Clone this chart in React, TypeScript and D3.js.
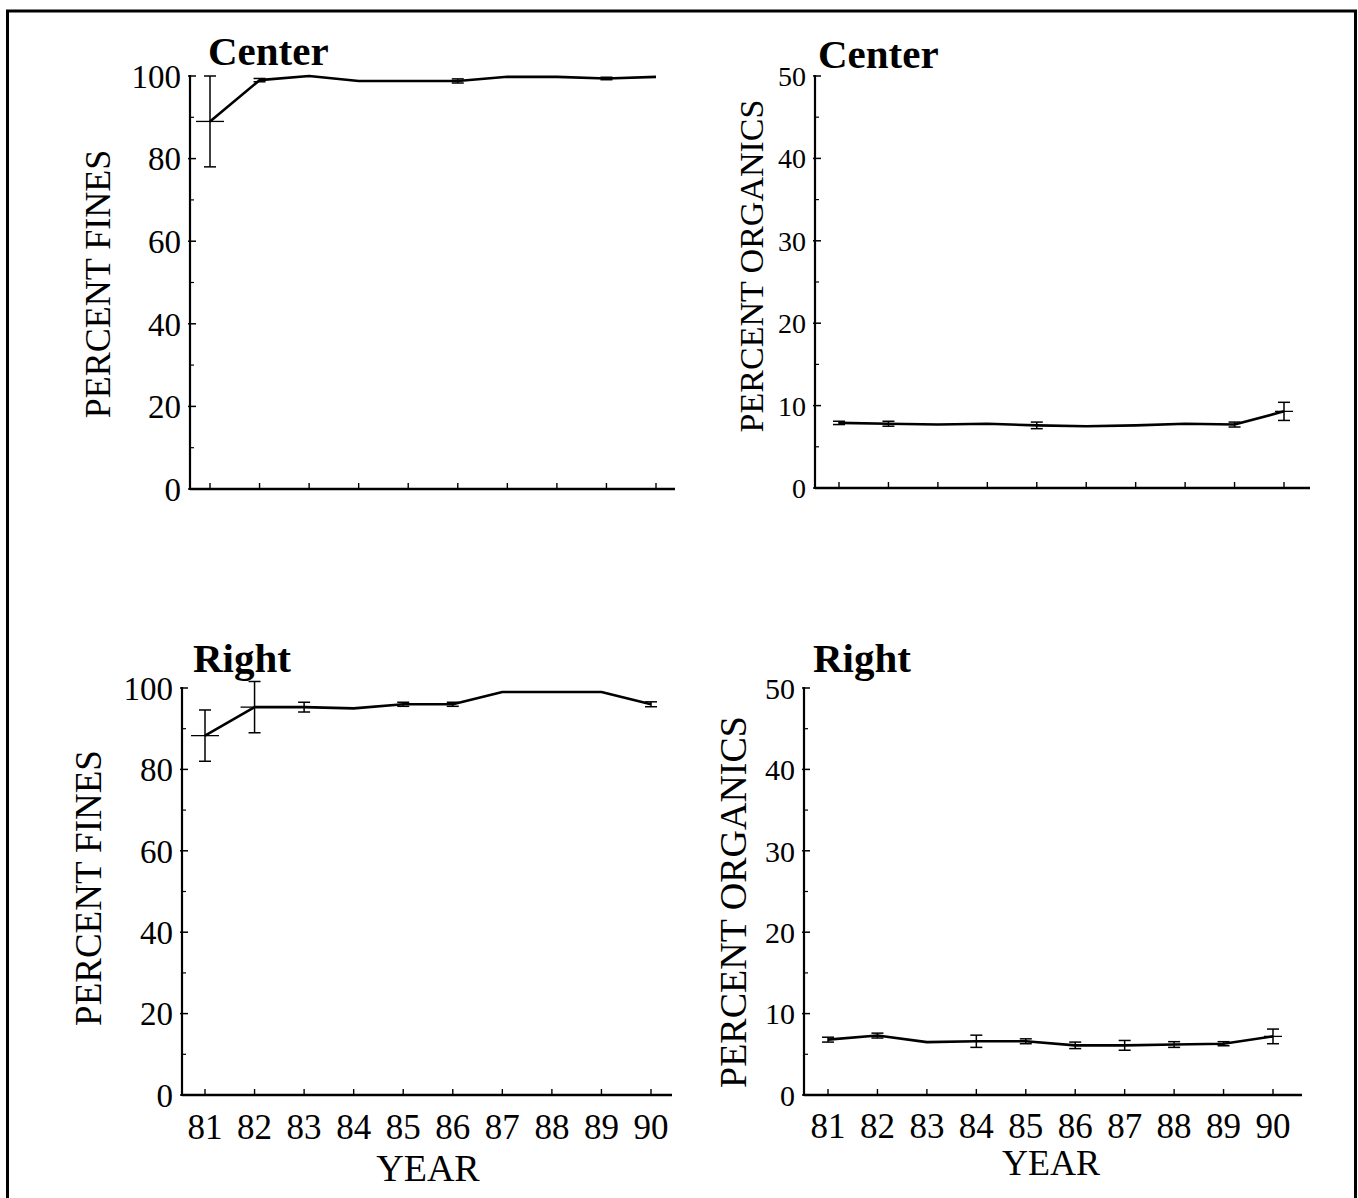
import React from "react";
import * as d3 from "d3";

// ---------- data ----------
const years = [81, 82, 83, 84, 85, 86, 87, 88, 89, 90];
const yearLabels = ["81", "82", "83", "84", "85", "86", "87", "88", "89", "90"];

const centerFines = [89, 99, 100, 98.8, 98.8, 98.8, 99.8, 99.8, 99.4, 99.8];
const centerFinesErr = [11, 0.4, 0, 0, 0, 0.5, 0, 0, 0.3, 0];

const centerOrganics = [7.9, 7.8, 7.7, 7.8, 7.6, 7.5, 7.6, 7.8, 7.7, 9.3];
const centerOrganicsErr = [0.2, 0.3, 0, 0, 0.4, 0, 0, 0, 0.3, 1.1];

const rightFines = [88.3, 95.3, 95.3, 95, 96, 96, 99, 99, 99, 96];
const rightFinesErr = [6.3, 6.3, 1.2, 0, 0.5, 0.5, 0, 0, 0, 0.6];

const rightOrganics = [6.8, 7.3, 6.5, 6.6, 6.6, 6.1, 6.1, 6.2, 6.3, 7.2];
const rightOrganicsErr = [0.3, 0.3, 0, 0.75, 0.3, 0.4, 0.6, 0.35, 0.25, 0.9];

const finesTicks = [0, 20, 40, 60, 80, 100];
const finesMinor = [10, 30, 50, 70, 90];
const organicsTicks = [0, 10, 20, 30, 40, 50];
const organicsMinor = [5, 15, 25, 35, 45];

const FONT = "'Liberation Serif', 'Times New Roman', serif";

type PanelCfg = {
  title: string;
  yLabel: string;
  values: number[];
  errs: number[];
  yMax: number;
  ticks: number[];
  minor: number[];
  showX: boolean;
  axisX: number;
  axisEnd: number;
  x81: number;
  x90: number;
  y0: number;
  yTop: number;
  titleX: number;
  titleY: number;
  yLabelX: number;
  yLabelY: number;
  yLabelSize: number;
  tickSize: number;
  xLabelY: number;
  yearX: number;
  yearY: number;
  yearSize: number;
  barW: number;
};

const panels: PanelCfg[] = [
  {
    title: "Center", yLabel: "PERCENT FINES", values: centerFines, errs: centerFinesErr,
    yMax: 100, ticks: finesTicks, minor: finesMinor, showX: false,
    axisX: 190, axisEnd: 675, x81: 210, x90: 656, y0: 489, yTop: 76,
    titleX: 208, titleY: 65, yLabelX: 97, yLabelY: 284, yLabelSize: 36, tickSize: 33,
    xLabelY: 0, yearX: 0, yearY: 0, yearSize: 0, barW: 28,
  },
  {
    title: "Center", yLabel: "PERCENT ORGANICS", values: centerOrganics, errs: centerOrganicsErr,
    yMax: 50, ticks: organicsTicks, minor: organicsMinor, showX: false,
    axisX: 815, axisEnd: 1310, x81: 839, x90: 1284, y0: 488, yTop: 76,
    titleX: 818, titleY: 68, yLabelX: 751, yLabelY: 266, yLabelSize: 34, tickSize: 28,
    xLabelY: 0, yearX: 0, yearY: 0, yearSize: 0, barW: 18,
  },
  {
    title: "Right", yLabel: "PERCENT FINES", values: rightFines, errs: rightFinesErr,
    yMax: 100, ticks: finesTicks, minor: finesMinor, showX: true,
    axisX: 182, axisEnd: 672, x81: 205, x90: 651, y0: 1095, yTop: 688,
    titleX: 193, titleY: 672, yLabelX: 88, yLabelY: 888, yLabelSize: 37, tickSize: 33,
    xLabelY: 1139, yearX: 428, yearY: 1181, yearSize: 38, barW: 28,
  },
  {
    title: "Right", yLabel: "PERCENT ORGANICS", values: rightOrganics, errs: rightOrganicsErr,
    yMax: 50, ticks: organicsTicks, minor: organicsMinor, showX: true,
    axisX: 804, axisEnd: 1302, x81: 828, x90: 1273, y0: 1095, yTop: 688,
    titleX: 813, titleY: 672, yLabelX: 733, yLabelY: 902, yLabelSize: 38, tickSize: 30,
    xLabelY: 1138, yearX: 1051, yearY: 1175, yearSize: 36, barW: 18,
  },
];

function Panel({ p }: { p: PanelCfg }) {
  const x = d3.scaleLinear().domain([years[0], years[years.length - 1]]).range([p.x81, p.x90]);
  const y = d3.scaleLinear().domain([0, p.yMax]).range([p.y0, p.yTop]);
  const pts = years.map((yr, i) => ({ yr, v: p.values[i], e: p.errs[i] }));
  const line = d3
    .line<{ yr: number; v: number }>()
    .x((d) => x(d.yr))
    .y((d) => y(d.v))
    .curve(d3.curveLinear);
  const cap = 6;
  return (
    <g>
      {/* axes */}
      <line x1={p.axisX} x2={p.axisX} y1={p.yTop - 1} y2={p.y0 + 1} stroke="#000" strokeWidth={2.2} />
      <line x1={p.axisX} x2={p.axisEnd} y1={p.y0} y2={p.y0} stroke="#000" strokeWidth={2.4} />
      {p.ticks.map((t) => (
        <g key={"t" + t}>
          <line x1={p.axisX - 2} x2={p.axisX + 6} y1={y(t)} y2={y(t)} stroke="#000" strokeWidth={1.5} />
          <text
            x={p.axisX - 9}
            y={y(t)}
            dy="0.36em"
            textAnchor="end"
            fontFamily={FONT}
            fontSize={p.tickSize}
          >
            {t}
          </text>
        </g>
      ))}
      {p.minor.map((t) => (
        <line key={"m" + t} x1={p.axisX} x2={p.axisX + 4} y1={y(t)} y2={y(t)} stroke="#000" strokeWidth={1.2} />
      ))}
      {years.map((yr, i) => (
        <g key={"x" + yr}>
          <line x1={x(yr)} x2={x(yr)} y1={p.y0} y2={p.y0 - 6} stroke="#000" strokeWidth={1.4} />
          {p.showX && (
            <text x={x(yr)} y={p.xLabelY} textAnchor="middle" fontFamily={FONT} fontSize={35}>
              {yearLabels[i]}
            </text>
          )}
        </g>
      ))}
      {/* error bars */}
      {pts.map((d) =>
        d.e > 0 ? (
          <g key={"e" + d.yr} stroke="#000" strokeWidth={1.5}>
            <line x1={x(d.yr)} x2={x(d.yr)} y1={y(d.v - d.e)} y2={y(d.v + d.e)} />
            <line x1={x(d.yr) - cap} x2={x(d.yr) + cap} y1={y(d.v - d.e)} y2={y(d.v - d.e)} />
            <line x1={x(d.yr) - cap} x2={x(d.yr) + cap} y1={y(d.v + d.e)} y2={y(d.v + d.e)} />
            {d.e > 0.8 && (
              <line x1={x(d.yr) - p.barW / 2} x2={x(d.yr) + p.barW / 2} y1={y(d.v)} y2={y(d.v)} strokeWidth={1.3} />
            )}
          </g>
        ) : null
      )}
      <path d={line(pts) || ""} fill="none" stroke="#000" strokeWidth={2.6} strokeLinejoin="round" />
      {/* titles */}
      <text x={p.titleX} y={p.titleY} fontFamily={FONT} fontWeight="bold" fontSize={41}>
        {p.title}
      </text>
      <text
        transform={`translate(${p.yLabelX},${p.yLabelY}) rotate(-90)`}
        textAnchor="middle"
        dy="0.35em"
        fontFamily={FONT}
        fontSize={p.yLabelSize}
      >
        {p.yLabel}
      </text>
      {p.showX && (
        <text x={p.yearX} y={p.yearY} textAnchor="middle" fontFamily={FONT} fontSize={p.yearSize}>
          YEAR
        </text>
      )}
    </g>
  );
}

export default function App() {
  return (
    <svg
      width={1358}
      height={1198}
      style={{ position: "absolute", left: 0, top: 0, background: "#fff" }}
    >
      <rect x={0} y={0} width={1358} height={1198} fill="#fff" />
      <rect x={7.5} y={11} width={1348} height={1200} fill="none" stroke="#000" strokeWidth={3} />
      {panels.map((p, i) => (
        <Panel key={i} p={p} />
      ))}
    </svg>
  );
}
